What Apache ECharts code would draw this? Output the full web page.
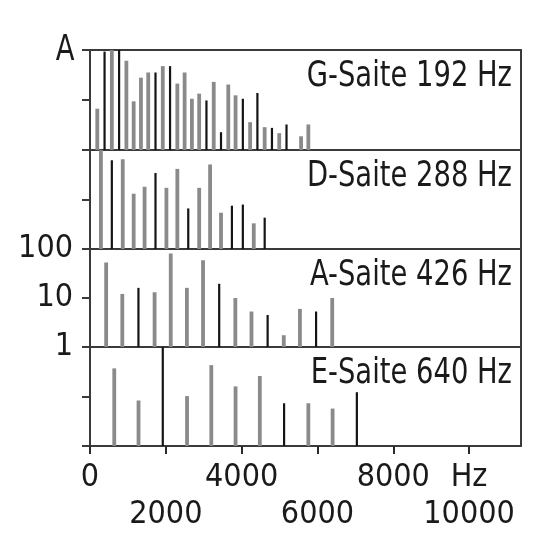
<!DOCTYPE html>
<html><head><meta charset="utf-8">
<script src="https://cdn.jsdelivr.net/npm/echarts@6/dist/echarts.min.js"></script>
<style>html,body{margin:0;padding:0;background:#fff}#c{width:548px;height:560px}</style>
</head><body><div id="c"></div>
<script>
// ---- data ----
const stringNames = ['G-Saite 192 Hz', 'D-Saite 288 Hz', 'A-Saite 426 Hz', 'E-Saite 640 Hz'];
const fundamentals = [192, 288, 426, 640];
// amplitudes of harmonics 1..n (log scale 1..100), null = no line
const gAmp = [6.7, 93, 100, 100, 61, 9.4, 28, 35.5, 35.5, 47.6, 47.6, 21.3, 35.5, 10.6, 13.4, 9.8, 23, 2.27, 20.4, 12.4, 10.6, 3.6, 13.8, 2.86, 2.77, 2.17, 3.24, null, 1.88, 3.24];
const gDark = [0,1,0,1,0,0,0,0,1,0,1,0,0,0,0,1,0,1,0,0,1,0,1,0,1,0,1,0,0,0];
const dAmp = [100, 62, 65, 13.1, 18.1, 34.3, 17.2, 41.5, 6.6, 17.2, 51, 5.4, 7.5, 7.9, 3.3, 4.3];
const dDark = [0,1,0,0,0,1,0,0,1,0,0,0,1,1,0,1];
const aAmp = [53, 12.1, 16.1, 13.1, 81, 16.1, 59, 19.5, 10, 5.3, 4.5, 1.74, 6.0, 5.3, 10];
const aDark = [0,0,1,0,0,0,0,1,0,0,1,0,0,1,0];
const eAmp = [37, 8.3, 100, 10.2, 43, 16, 26, 7.3, 7.3, 5.7, 12.2];
const eDark = [0,0,1,0,0,0,0,1,0,0,1];
const xTickLabels = {0: '0', 2000: '\n2000', 4000: '4000', 6000: '\n6000', 8000: '8000', 10000: 'Hz\n10000'};
const yTickLabels = ['1', '10', '100'];
const yAxisTitle = 'A';

const amps = [gAmp, dAmp, aAmp, eAmp];
const darks = [gDark, dDark, aDark, eDark];

// ---- layout ----
const FONT = '"DejaVu Sans Condensed", "Liberation Sans", sans-serif';
const TXT = '#1a1a1a';
const tops = [50, 150, 249, 347];
const heights = [100, 99, 98, 99];
const XMAX = 11370;

const grids = [], xAxes = [], yAxes = [], series = [], graphics = [];
for (let i = 0; i < 4; i++) {
  grids.push({left: 90, width: 431, top: tops[i], height: heights[i], show: true,
    borderColor: '#3a3a3a', borderWidth: 2, backgroundColor: 'transparent'});
  const last = i === 3;
  xAxes.push({type: 'value', gridIndex: i, min: 0, max: XMAX, interval: 2000,
    axisLine: {show: false}, splitLine: {show: false},
    axisTick: {show: last, inside: false, length: 8, lineStyle: {color: '#2a2a2a', width: 2}},
    axisLabel: {show: last, margin: 13, fontFamily: FONT, fontSize: 32, lineHeight: 37, color: TXT,
      showMaxLabel: false,
      formatter: v => (xTickLabels[v] !== undefined ? xTickLabels[v] : '')}
  });
  yAxes.push({type: 'log', logBase: 10, gridIndex: i, min: 1, max: 100,
    axisLine: {show: false}, splitLine: {show: false},
    axisTick: {show: true, inside: false, length: 8, lineStyle: {color: '#3a3a3a', width: 2}},
    axisLabel: {show: i === 2, margin: 17, fontFamily: FONT, fontSize: 32, color: TXT,
      formatter: v => { const k = Math.round(Math.log10(v)); return yTickLabels[k] || ''; }}
  });
  const data = [];
  amps[i].forEach((a, n) => {
    if (a !== null) data.push([(n + 1) * fundamentals[i], a, darks[i][n]]);
  });
  series.push({type: 'custom', xAxisIndex: i, yAxisIndex: i, clip: true,
    encode: {x: 0, y: 1},
    data: data,
    renderItem: function (params, api) {
      const x = api.value(0), a = api.value(1), dark = api.value(2);
      const top = api.coord([x, Math.min(a, 100)]);
      const bot = api.coord([x, 1]);
      const w = dark ? 2.2 : 3.8;
      return {type: 'rect', shape: {x: top[0] - w / 2, y: top[1], width: w, height: bot[1] - top[1]},
        style: {fill: dark ? '#141414' : '#8a8a8a'}};
    }
  });
  graphics.push({type: 'text', x: 512, y: tops[i] + 27, scaleX: 0.87,
    style: {text: stringNames[i], fontFamily: FONT, fontSize: 35, fill: TXT, textAlign: 'right', textVerticalAlign: 'middle'}});
}
graphics.push({type: 'text', x: 65, y: 51, scaleX: 0.87,
  style: {text: yAxisTitle, fontFamily: FONT, fontSize: 35, fill: TXT, textAlign: 'center', textVerticalAlign: 'middle'}});

const chart = echarts.init(document.getElementById('c'), null, {renderer: 'canvas'});
chart.setOption({
  animation: false,
  backgroundColor: '#ffffff',
  grid: grids, xAxis: xAxes, yAxis: yAxes, series: series, graphic: graphics
});
</script>
</body></html>
